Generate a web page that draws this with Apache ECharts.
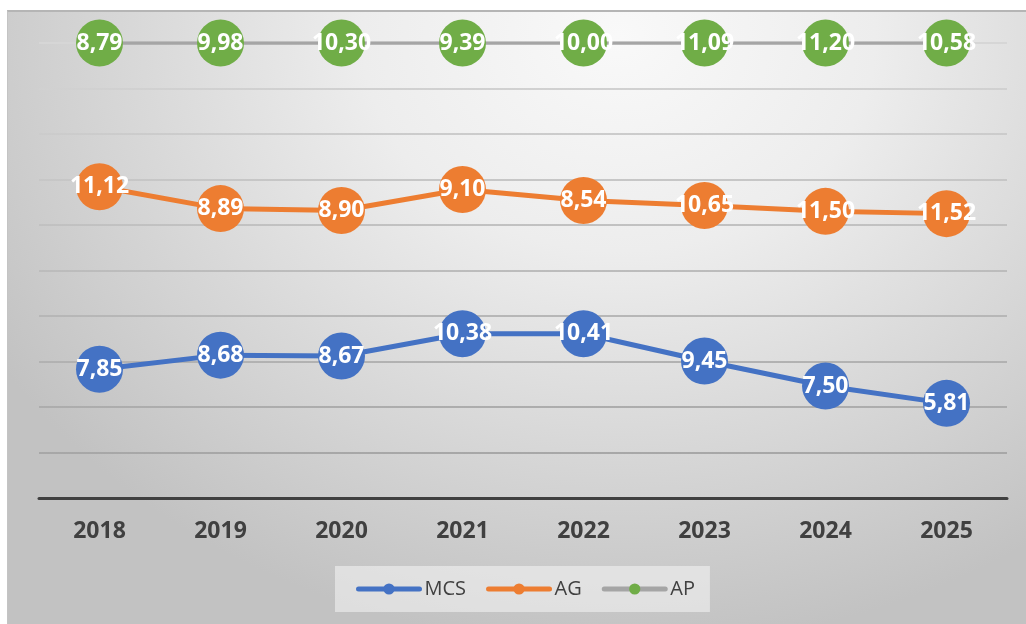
<!DOCTYPE html>
<html>
<head>
<meta charset="utf-8">
<title>MCS / AG / AP</title>
<script src="https://cdn.jsdelivr.net/npm/echarts@6/dist/echarts.min.js"></script>
<style>
  html, body {
    margin: 0;
    padding: 0;
    background: #ffffff;
  }
  #chart {
    position: absolute;
    left: 7px;
    top: 10px;
    width: 1019px;
    height: 614px;
    border-top: 2px solid #b5b5b5;
    border-left: 1px solid #c4c4c4;
    box-sizing: border-box;
    background: radial-gradient(ellipse 72% 100% at 60% 4%, #f9f9f9 0%, #ededed 35%, #d9d9d9 65%, #c2c2c2 100%);
  }
</style>
</head>
<body>
<div id="chart"></div>
<script>
// categories
const years = ['2018', '2019', '2020', '2021', '2022', '2023', '2024', '2025']

// values written on the markers
const mcsLabels = [7.85, 8.68, 8.67, 10.38, 10.41, 9.45, 7.50, 5.81]
const agLabels = [11.12, 8.89, 8.90, 9.10, 8.54, 10.65, 11.50, 11.52]
const apLabels = [8.79, 9.98, 10.30, 9.39, 10.00, 11.09, 11.20, 10.58]

// plotted heights, in gridline steps (axis goes 0..10)
const mcsPlot = [2.83, 3.14, 3.12, 3.61, 3.61, 3.01, 2.46, 2.08]
const agPlot = [6.84, 6.36, 6.32, 6.78, 6.54, 6.43, 6.30, 6.25]
const apPlot = [10, 10, 10, 10, 10, 10, 10, 10]

const chart = echarts.init(document.getElementById('chart'))

function fmt(list) {
  return function (p) {
    return list[p.dataIndex].toFixed(2).replace('.', ',')
  }
}

function makeSeries(name, data, labels, lineColor, dotColor, lineWidth) {
  return {
    name: name,
    type: 'line',
    data: data,
    symbol: 'circle',
    symbolSize: 47,
    lineStyle: { color: lineColor, width: lineWidth },
    itemStyle: { color: dotColor, borderWidth: 0 },
    label: {
      show: true,
      position: 'inside',
      formatter: fmt(labels),
      color: '#ffffff',
      fontFamily: 'Open Sans',
      fontWeight: 'bold',
      fontSize: 23
    },
    emphasis: { disabled: true }
  }
}

chart.setOption({
  animation: false,
  backgroundColor: 'transparent',
  textStyle: { fontFamily: 'Open Sans' },
  grid: {
    left: 31,
    right: 19,
    top: 31,
    bottom: 126
  },
  legend: {
    left: 327,
    top: 554,
    padding: [13, 15, 13, 21],
    backgroundColor: 'rgba(245,245,245,0.55)',
    itemWidth: 61,
    itemHeight: 14,
    itemGap: 20,
    lineStyle: { width: 5, cap: 'round' },
    textStyle: {
      color: '#404040',
      fontSize: 20,
      fontFamily: 'Open Sans'
    },
    data: ['MCS', 'AG', 'AP']
  },
  xAxis: {
    type: 'category',
    data: years,
    boundaryGap: true,
    axisLine: { show: true, lineStyle: { color: '#404040', width: 3 } },
    axisTick: { show: false },
    axisLabel: {
      margin: 22,
      color: '#404040',
      fontWeight: 'bold',
      fontSize: 23,
      fontFamily: 'Open Sans'
    }
  },
  yAxis: {
    type: 'value',
    min: 0,
    max: 10,
    interval: 1,
    axisLabel: { show: false },
    axisLine: { show: false },
    axisTick: { show: false },
    splitLine: {
      lineStyle: {
        width: 2,
        color: {
          type: 'linear',
          global: true,
          x: 0, y: 30, x2: 0, y2: 490,
          colorStops: [
            { offset: 0, color: '#d6d6d6' },
            { offset: 1, color: '#a2a2a2' }
          ]
        }
      }
    }
  },
  series: [
    makeSeries('MCS', mcsPlot, mcsLabels, '#4472C4', '#4472C4', 5),
    makeSeries('AG', agPlot, agLabels, '#ED7D31', '#ED7D31', 5),
    makeSeries('AP', apPlot, apLabels, '#A5A5A5', '#70AD47', 3.5)
  ]
})
</script>
</body>
</html>
